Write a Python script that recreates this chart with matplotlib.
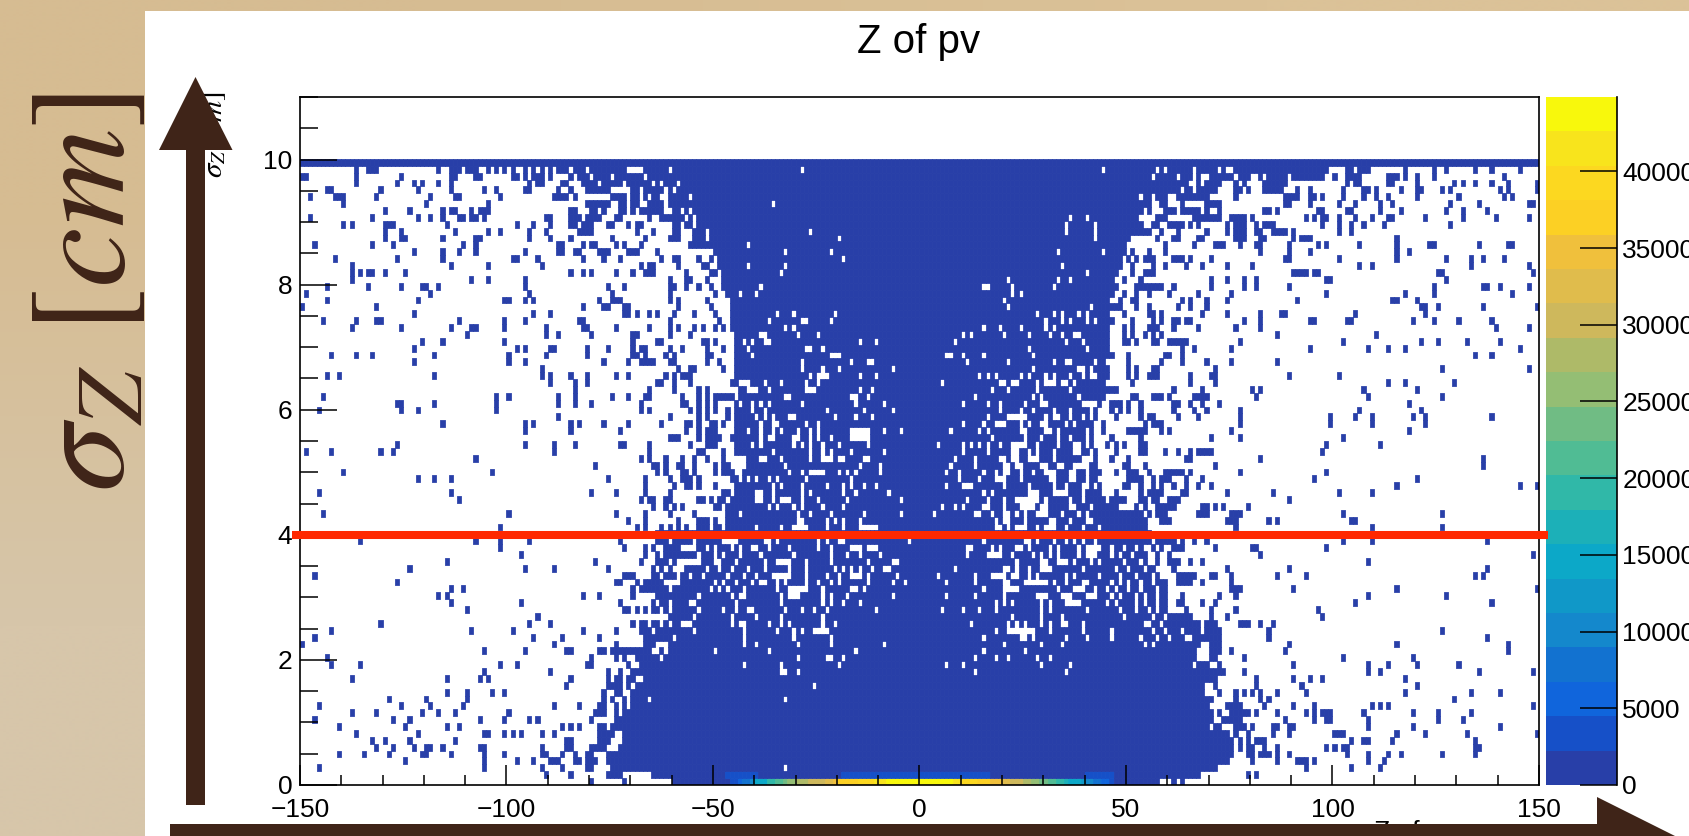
import numpy as np
import matplotlib
matplotlib.use("Agg")
import matplotlib.pyplot as plt
from matplotlib.colors import ListedColormap, BoundaryNorm
from matplotlib.patches import Polygon, Rectangle

W, H = 1690, 836
plt.rcParams['font.family'] = ['Liberation Sans', 'DejaVu Sans']
plt.rcParams['mathtext.fontset'] = 'stix'

# ---------- data: bins are 1 cm wide in z, 0.11 cm tall in sigma_z ----------
z_edges = np.arange(-150, 151)
sigma_edges = np.arange(0, 92) * 0.11
z_ticks = [-150, -100, -50, 0, 50, 100, 150]
sigma_ticks = [0, 2, 4, 6, 8, 10]
bar_ticks = [0, 5000, 10000, 15000, 20000, 25000, 30000, 35000, 40000]
bar_max = 44850
palette = ['#283FA8', '#1650C8', '#1065DC', '#1272D0', '#1488CC', '#1098C8', '#0CA8C8', '#1CB0B8',
           '#30B8A8', '#50BC94', '#70BC84', '#94BE74', '#AEBA68', '#CEB85C', '#E0BC4C', '#F0C03C',
           '#FCD024', '#FCD820', '#F8E41C', '#F8F80C']

# filled span of every sigma row, first and last z bin
core_left = [90, 85, 75, 74, 74, 77, 78, 78, 78, 76, 79, 81, 81, 81, 81, 83, 83, 83, 83, 83, 83, 83, 83, 83,
             86, 85, 87, 86, 85, 86, 86, 87, 86, 88, 88, 86, 86, 105, 104, 104, 104, 104, 105, 105, 105, 107,
             108, 108, 107, 105, 105, 105, 105, 105, 105, 105, 106, 106, 105, 105, 105, 105, 105, 105, 105,
             105, 104, 104, 104, 104, 104, 103, 102, 102, 102, 101, 101, 101, 101, 99, 99, 98, 91, 73, 72, 72,
             69, 68, 65, 62, 0]
core_right = [207, 217, 221, 224, 225, 225, 225, 224, 219, 220, 220, 219, 220, 218, 218, 221, 222, 219, 216, 216,
              217, 212, 211, 211, 211, 209, 209, 209, 208, 208, 207, 207, 207, 207, 206, 205, 205, 204, 193, 196,
              194, 194, 193, 193, 192, 193, 192, 192, 192, 191, 191, 191, 191, 192, 192, 193, 194, 197, 194, 195,
              195, 194, 196, 195, 195, 195, 195, 196, 195, 198, 195, 196, 197, 196, 197, 198, 198, 199, 199, 200,
              205, 203, 202, 203, 205, 209, 215, 215, 217, 234, 299]

# isolated filled bins left of the span, by row
left_cells = {
    0: [70, 78], 1: [59, 65, 74, 75, 76, 77], 2: [4, 44, 58, 63, 69, 70], 3: [25, 44, 52, 56, 60, 61, 62, 66, 67, 69, 70, 71],
    4: [9, 15, 21, 29, 30, 36, 44, 49, 58, 59, 63, 66, 69, 70], 5: [18, 22, 27, 30, 31, 34, 43, 44, 58, 64, 65, 70, 71, 72, 73],
    6: [17, 20, 26, 37, 64, 65, 72, 73, 74], 7: [13, 28, 44, 45, 49, 51, 53, 58, 61, 72, 73, 74, 75],
    8: [9, 25, 35, 38, 63, 65, 67, 72, 73, 75, 76, 77], 9: [3, 22, 26, 43, 49, 55, 57, 70, 76, 78, 80],
    10: [12, 18, 29, 33, 37, 50, 71, 72, 73, 76, 78], 11: [4, 24, 31, 39, 61, 67, 72, 73, 76, 78, 80],
    12: [21, 30, 40, 73, 75, 78, 80], 13: [35, 40, 46, 49, 73, 76, 77, 80], 14: [64, 74, 75, 76, 77, 79],
    15: [12, 35, 43, 45, 65, 74, 76, 77, 79, 80], 16: [44, 60, 74, 77, 80, 81, 82], 17: [7, 14, 48, 52, 69, 70, 79, 82],
    18: [6, 70, 76, 78, 81, 82], 19: [44, 54, 64, 65, 72, 73, 75, 76, 77, 78, 79, 80, 81, 82], 20: [0, 61, 76],
    21: [3, 56, 63, 72], 22: [7, 41, 51, 68, 76, 82], 23: [19, 55, 60, 80, 82], 24: [57], 25: [40, 78, 79, 81, 83],
    26: [36, 53, 77, 85], 27: [33, 35, 68, 72, 80], 28: [36, 39, 80, 82, 83, 84], 29: [23, 76, 77, 81, 83, 84, 85],
    30: [3, 78, 79, 80, 85], 31: [26, 54, 61, 74, 85], 32: [35, 71, 82], 33: [53, 83, 86], 34: [48, 78, 83, 85],
    35: [14, 42, 48, 55, 77], 37: [48, 81, 83, 87, 89, 91, 93, 96, 97, 98, 100, 101, 103, 104],
    38: [79, 83, 91, 96, 97, 98, 100, 103], 39: [5, 50, 76, 83, 89, 95, 103], 40: [85, 88, 90, 92, 100, 101, 103],
    41: [38, 82, 84, 85, 88, 89, 96, 97, 99, 101, 102], 42: [4, 36, 70, 76, 83, 89, 102, 103], 43: [83, 90, 93, 94, 96, 100],
    44: [28, 32, 36, 74, 83, 89, 92, 93, 94, 96, 104], 45: [10, 46, 86, 88, 92, 93, 95, 100, 102, 103, 104],
    46: [71, 85, 86, 88, 91, 92, 95, 100, 102, 103], 47: [42, 82, 84, 88, 92, 95, 98, 102], 48: [1, 7, 19, 22, 61, 84, 96, 97, 102, 105, 106],
    49: [23, 54, 61, 66, 77, 78, 84, 94, 98, 99, 100], 50: [89, 90, 91, 96, 98, 99, 100, 101, 104],
    51: [54, 65, 77, 93, 96, 98, 99, 100], 52: [34, 54, 56, 65, 67, 73, 79, 87, 93, 94, 96, 99, 100, 102],
    53: [62, 89, 96, 98, 103], 54: [4, 24, 28, 47, 82, 84, 94, 96, 98, 100, 103], 55: [23, 24, 32, 47, 62, 66, 70, 82, 92, 93, 96, 98, 100],
    56: [5, 47, 50, 62, 66, 75, 79, 83, 84, 92, 96, 98, 100, 101, 102, 103, 104], 57: [66, 84, 90, 96, 98],
    58: [60, 66, 69, 86, 87, 90, 94, 104], 59: [6, 9, 32, 58, 60, 65, 69, 76, 79, 88, 90, 92, 93, 94],
    60: [58, 91, 94, 95, 102], 61: [27, 50, 54, 73, 79, 82, 83, 84, 85, 89, 90, 98, 101], 62: [7, 13, 17, 32, 50, 59, 69, 80, 81, 83, 88, 90, 98, 99],
    63: [27, 52, 54, 60, 61, 69, 74, 80, 82, 83, 89, 92, 98, 102], 64: [29, 34, 49, 80, 86, 87, 97, 98, 100],
    65: [40, 59, 62, 70, 80, 81, 89, 94], 66: [12, 24, 36, 41, 42, 49, 59, 68, 69, 76, 84, 89, 91, 95, 97, 100, 102],
    67: [5, 13, 18, 19, 38, 49, 54, 67, 68, 89, 101], 68: [27, 56, 60, 78, 79, 81, 84, 86, 90, 95, 100],
    69: [0, 18, 68, 73, 74, 78, 79, 91, 99], 70: [6, 28, 49, 50, 54, 56, 72, 75, 76, 77, 89, 91, 98], 71: [1, 31, 55, 75, 89, 100],
    72: [6, 16, 24, 29, 30, 33, 54, 74, 78, 89, 90, 93, 96, 99], 73: [12, 41, 45, 54, 89, 93, 94, 98],
    74: [12, 14, 16, 17, 20, 25, 65, 68, 70, 76, 80, 83, 84, 85, 93, 99, 100], 75: [12, 36, 45, 58, 82, 84, 85, 91, 97, 98],
    76: [8, 23, 34, 51, 52, 57, 68, 73, 77, 87, 90, 91, 96, 99], 77: [27, 34, 38, 42, 54, 62, 63, 66, 67, 72, 73, 74, 79, 80, 81, 86, 100],
    78: [3, 17, 22, 39, 42, 62, 63, 68, 70, 71, 76, 78, 82, 94, 95, 96, 97, 98, 99, 100],
    79: [20, 24, 25, 34, 42, 43, 55, 60, 65, 75, 83, 89, 90, 91, 95, 96, 97], 80: [20, 24, 37, 45, 48, 55, 59, 67, 68, 69, 70, 81, 85, 90, 91, 95, 96, 97],
    81: [10, 12, 20, 21, 22, 35, 52, 56, 60, 65, 66, 68, 69, 70, 74, 75, 79, 81, 82, 90, 91, 93, 94, 96, 97],
    82: [2, 17, 28, 31, 34, 38, 39, 41, 42, 44, 59, 60, 65, 66, 67, 69, 70, 71, 72, 76, 77, 84, 87, 88, 89, 90],
    83: [20, 26, 34, 36, 37, 41, 43, 44, 45, 65, 66, 70, 71], 84: [10, 30, 45, 69, 70, 71],
    85: [2, 8, 9, 10, 18, 31, 37, 38, 48, 61, 62, 63, 64, 66], 86: [6, 7, 19, 28, 36, 44, 47, 54, 55, 62, 65],
    87: [13, 23, 27, 29, 33, 36, 55, 57, 58, 63, 64], 88: [0, 1, 13, 24, 36, 37, 42, 43, 51, 52, 54, 56, 57, 58, 60],
    89: [13, 16, 17, 18, 33, 36, 37, 38, 40, 41, 42, 45, 47, 49, 51, 54, 56, 58, 60],
}

# isolated filled bins right of the span, by row
right_cells = {
    0: [211, 213], 1: [229, 231], 2: [243, 254, 261], 3: [230, 236, 241, 242, 243, 245, 258, 262],
    4: [229, 230, 232, 233, 234, 236, 239, 253, 258, 263, 266, 276, 284], 5: [227, 229, 230, 233, 236, 248, 250, 252, 253, 284, 285],
    6: [227, 229, 231, 232, 233, 254, 257, 258, 264, 284], 7: [226, 229, 235, 239, 250, 251, 252, 265, 272, 282, 299],
    8: [221, 222, 226, 227, 228, 230, 235, 236, 239, 240, 258, 269, 290], 9: [223, 224, 225, 226, 227, 238, 245, 248, 249, 258, 275, 281],
    10: [222, 225, 226, 227, 228, 229, 231, 236, 243, 245, 247, 248, 249, 257, 269, 275, 283], 11: [224, 225, 226, 227, 233, 240, 245, 259, 261, 263, 298],
    12: [226, 232, 234, 279], 13: [222, 226, 228, 230, 232, 236, 243, 267, 283, 290], 14: [221, 231, 242, 270],
    15: [231, 240, 244, 247, 267], 16: [223, 228, 258, 261, 285, 298], 17: [222, 240, 258, 263, 270, 280],
    18: [220, 221, 228, 252, 269], 19: [220, 221, 222, 225, 238, 292], 20: [220, 221, 222, 239, 265, 292],
    21: [213, 216, 217, 218, 219, 220, 221, 222, 234, 287], 22: [212, 214, 215, 216, 217, 219, 220, 221, 222, 234, 276],
    23: [212, 213, 214, 215, 216, 217, 219, 220, 221, 227, 228, 229, 232, 235], 24: [212, 213, 214, 215, 220, 224, 247],
    25: [214, 220, 226, 246], 26: [212, 213, 218, 221, 255, 288], 27: [213, 222, 226, 258, 277], 28: [209, 225, 226, 227, 240, 265, 299],
    29: [209, 212, 213, 214, 215, 218, 225], 30: [212, 213, 214, 215, 216, 220, 221, 225, 236, 243, 284, 286],
    31: [211, 224, 239, 287], 32: [210, 211, 212, 215, 218, 258], 33: [210, 232, 298], 34: [208, 211, 212, 213, 221, 230, 231, 248],
    35: [207, 208, 209, 210, 211, 213, 216, 219, 252, 259, 287], 37: [226, 259, 276],
    38: [194, 195, 196, 197, 198, 199, 200, 201, 202, 203, 204, 208, 209, 210, 224, 225, 226, 234, 236, 254, 255],
    39: [197, 198, 199, 200, 201, 202, 203, 205, 207, 208, 209, 217, 218, 219, 225, 226, 227, 252, 276],
    40: [195, 196, 197, 202, 204, 207, 208, 209, 210, 211, 218, 219, 221, 223, 229], 41: [196, 197, 198, 199, 203, 204, 206, 207, 210, 211, 212, 239],
    42: [197, 203, 205, 206, 207, 208, 213, 214, 224, 235, 251, 259], 43: [199, 200, 203, 206, 208, 211, 214, 217, 220, 265, 295, 299],
    44: [200, 201, 202, 203, 206, 208, 209, 210, 214, 218, 245, 270], 45: [197, 200, 201, 202, 205, 209, 210, 211, 212, 213, 215, 227, 248],
    46: [199, 200, 204, 221, 286], 47: [196, 200, 214, 215, 232, 286], 48: [197, 203, 204, 209, 212, 215, 217, 218, 219, 220, 247],
    49: [195, 197, 199, 203, 204, 248, 261], 50: [196, 203, 220, 227, 252], 51: [194, 200, 201, 202, 203, 204, 208, 210, 225, 268],
    52: [194, 204, 206, 207, 208, 227, 249, 259, 272], 53: [197, 203, 205, 206, 212, 217, 227, 249, 255, 259, 269, 272, 288],
    54: [196, 198, 200, 203, 211, 216, 219, 227, 256, 271], 55: [196, 197, 198, 200, 203, 211, 212, 215, 218, 222, 268],
    56: [201, 202, 206, 207, 208, 210, 216, 217, 218, 219, 231, 258, 276], 57: [211, 218, 230, 232, 257, 270],
    58: [201, 215, 221, 263, 267, 279], 59: [200, 202, 205, 206, 207, 215, 220, 221, 239, 251], 60: [200, 202, 206, 207, 221, 276, 297],
    61: [200, 208, 213, 219, 225, 236], 62: [200, 209, 210, 213, 284, 288], 63: [213, 216, 225, 244, 258, 263, 267, 295],
    64: [199, 200, 202, 206, 207, 210, 211, 212, 213, 214, 227, 252, 271, 275, 282, 290], 65: [199, 201, 204, 206, 208, 236, 260],
    66: [199, 201, 205, 206, 207, 211, 217, 226, 232, 289, 297], 67: [201, 206, 208, 211, 212, 214, 215, 228, 232, 244, 245, 253, 254, 269, 274, 280, 288],
    68: [199, 205, 206, 208, 218, 224, 232, 237, 238, 255, 272], 69: [202, 205, 212, 215, 219, 271, 272, 275, 286, 299],
    70: [198, 201, 202, 213, 215, 219, 224, 241, 264, 265, 270], 71: [199, 202, 205, 210, 217, 225, 248, 267, 274, 293],
    72: [202, 203, 204, 205, 206, 207, 208, 211, 220, 228, 231, 239, 274, 286, 287, 290, 297], 73: [199, 203, 220, 224, 228, 231, 248, 249, 277],
    74: [201, 204, 205, 206, 240, 241, 242, 243, 245, 246, 275, 276, 298], 75: [201, 206, 209, 214, 218, 224, 230, 256, 259, 283, 297],
    76: [200, 202, 204, 205, 206, 211, 212, 213, 215, 220, 238, 239, 251, 265, 277, 283, 286, 291], 77: [201, 205, 209, 232, 239, 244, 265, 268],
    78: [209, 216, 221, 222, 223, 227, 231, 232, 239, 246, 248, 256, 265, 273, 274, 285, 292, 293],
    79: [207, 211, 212, 217, 218, 226, 227, 228, 232, 233, 240, 242, 243, 244, 265], 80: [208, 212, 219, 224, 226, 227, 228, 231, 232, 235, 236, 237, 238, 240, 251, 254],
    81: [206, 207, 210, 211, 212, 213, 215, 217, 224, 226, 227, 228, 231, 233, 234, 235, 247, 251, 254, 257, 262, 278],
    82: [207, 208, 209, 216, 217, 218, 219, 220, 221, 222, 225, 226, 227, 228, 230, 243, 245, 247, 248, 251, 255, 259, 263, 264, 272, 281, 289, 297],
    83: [205, 209, 210, 211, 213, 214, 215, 216, 217, 219, 222, 233, 234, 236, 246, 247, 253, 254, 261, 266, 277, 281, 287],
    84: [208, 209, 213, 219, 220, 221, 222, 238, 239, 244, 251, 255, 261, 264, 278, 285, 297, 298],
    85: [212, 213, 214, 215, 216, 217, 218, 219, 226, 238, 239, 240, 241, 244, 245, 247, 252, 257, 260, 263, 270, 280, 291, 293],
    86: [217, 218, 219, 220, 221, 226, 227, 229, 233, 234, 235, 236, 237, 241, 244, 252, 257, 258, 260, 266, 270, 271, 276, 278, 290, 292, 299],
    87: [217, 219, 220, 221, 222, 226, 228, 233, 234, 235, 236, 237, 238, 253, 255, 256, 263, 264, 270, 279, 281, 284, 288, 292, 299],
    88: [220, 221, 222, 223, 224, 225, 227, 228, 229, 232, 234, 235, 236, 237, 238, 240, 241, 242, 243, 244, 245, 246, 247, 250, 253, 254, 255, 256, 263, 264, 265, 267, 270, 274, 291],
    89: [235, 236, 237, 238, 239, 240, 241, 242, 243, 244, 245, 246, 247, 248, 253, 254, 256, 257, 258, 267, 274, 277, 284, 288, 295],
}

# empty bins inside the filled span, by row
holes = {
    2: [117], 12: [84, 117], 14: [124], 16: [116, 117, 120, 163, 185], 17: [107, 116, 130, 156, 160, 179, 186, 216], 18: [87, 120, 127, 128, 131, 163, 168, 171, 178, 181],
    19: [85, 86, 88, 100, 113, 134, 165, 175, 175], 20: [86, 87, 88, 107, 110, 120, 128, 141, 170, 179, 184, 204, 206],
    21: [90, 107, 119, 128, 165, 174, 175, 177, 185, 190, 196, 203, 207, 210], 22: [85, 95, 107, 115, 119, 121, 124, 125, 126, 127, 168, 171, 172, 173, 174, 175, 176, 177, 181, 189, 196, 206, 209],
    23: [84, 87, 89, 92, 93, 94, 104, 106, 107, 113, 116, 118, 126, 129, 162, 171, 173, 175, 179, 181, 184, 185, 189, 204, 205, 208], 24: [86, 87, 88, 95, 104, 110, 116, 126, 172, 179, 184, 199, 206, 209],
    25: [87, 89, 96, 102, 105, 108, 109, 117, 121, 124, 127, 139, 155, 160, 164, 168, 179, 181, 190, 198, 202, 205, 207], 26: [89, 94, 95, 105, 116, 126, 128, 131, 135, 168, 170, 172, 179, 181, 185, 186, 187, 188, 195, 197, 202, 204, 207],
    27: [96, 104, 106, 107, 116, 118, 119, 120, 126, 128, 132, 143, 156, 163, 170, 178, 179, 180, 184, 185, 186, 190, 191, 192, 196, 198, 202, 204, 207],
    28: [89, 99, 101, 103, 107, 115, 118, 119, 120, 121, 122, 126, 133, 134, 136, 165, 170, 171, 172, 173, 183, 187, 188, 189, 192, 195, 197, 200, 203, 207],
    29: [88, 89, 90, 91, 100, 102, 105, 109, 111, 112, 115, 117, 122, 125, 128, 130, 137, 143, 146, 156, 163, 170, 171, 175, 176, 177, 178, 179, 180, 182, 185, 189, 190, 196, 198, 200, 203, 206],
    30: [87, 91, 94, 97, 103, 107, 110, 114, 115, 116, 117, 118, 122, 127, 130, 133, 134, 135, 137, 144, 154, 163, 167, 168, 169, 170, 172, 173, 176, 178, 185, 187, 193, 198, 202, 206],
    31: [88, 90, 91, 92, 98, 101, 104, 108, 112, 118, 122, 129, 131, 133, 135, 138, 141, 142, 158, 170, 171, 173, 176, 179, 180, 181, 189, 197, 200, 204, 207],
    32: [89, 91, 92, 93, 94, 95, 96, 100, 101, 105, 112, 115, 116, 117, 118, 122, 128, 137, 143, 144, 173, 179, 180, 183, 184, 185, 187, 191, 193, 199, 203, 205, 206],
    33: [96, 100, 102, 106, 111, 119, 128, 132, 135, 140, 161, 166, 167, 168, 169, 172, 177, 179, 181, 183, 188, 190, 191, 192, 196, 198, 201, 205, 206],
    34: [92, 93, 94, 95, 98, 100, 104, 106, 109, 110, 113, 118, 125, 128, 133, 134, 135, 137, 138, 139, 161, 162, 167, 169, 173, 174, 176, 181, 183, 188, 190, 191, 192, 193, 196, 199, 202, 204, 205],
    35: [89, 95, 102, 103, 104, 105, 112, 113, 115, 125, 127, 130, 131, 147, 165, 175, 176, 178, 182, 185, 187, 189, 192],
    37: [110, 116, 119, 120, 121, 122, 127, 131, 135, 136, 137, 138, 139, 168, 169, 171, 173, 174, 175, 178, 180, 181, 182, 185, 189, 193],
    38: [120, 121, 127, 129, 131, 135, 168, 170, 171, 175, 181, 182, 186, 190, 191], 39: [106, 120, 123, 128, 136, 145, 153, 163, 164, 167, 170, 171, 173, 175, 178, 179, 180, 184, 188, 190],
    40: [113, 115, 119, 121, 126, 131, 155, 158, 160, 165, 166, 170, 174, 175, 176, 177, 179, 180, 186, 187, 191],
    41: [110, 111, 114, 116, 117, 118, 121, 125, 132, 145, 161, 166, 170, 173, 174, 175, 176, 177, 178, 180, 186, 189],
    42: [110, 111, 114, 121, 123, 131, 134, 142, 165, 167, 176, 177, 178, 182, 183, 184, 185, 189], 43: [114, 116, 121, 127, 131, 133, 136, 139, 156, 160, 161, 162, 170, 176, 182, 185, 189, 190, 192],
    44: [106, 108, 110, 113, 115, 122, 133, 159, 164, 168, 169, 170, 174, 181, 182, 186, 187, 190],
    45: [118, 121, 123, 124, 125, 126, 130, 132, 134, 140, 156, 159, 165, 168, 170, 171, 174, 177, 180, 181, 182, 186, 187, 190],
    46: [117, 135, 140, 157, 163, 170, 171, 173, 174, 179, 180, 183, 184, 187, 188, 189, 190],
    47: [111, 112, 116, 123, 126, 127, 128, 130, 131, 136, 137, 158, 163, 169, 170, 172, 173, 176, 177, 178, 182, 189, 190, 191],
    48: [114, 123, 126, 128, 133, 141, 160, 166, 172, 173, 176, 178, 182, 187, 188, 191], 49: [109, 111, 119, 121, 123, 126, 130, 137, 154, 160, 162, 164, 166, 169, 172, 173, 174, 175, 178, 183, 187, 188, 190],
    50: [111, 113, 114, 119, 120, 123, 125, 128, 133, 134, 135, 136, 137, 167, 175, 179, 183, 186, 190], 51: [108, 111, 114, 116, 120, 123, 125, 133, 134, 135, 136, 137, 141, 145, 157, 164, 166, 174, 175, 180, 181, 183, 190],
    52: [111, 114, 115, 122, 125, 160, 165, 168, 169, 170, 174, 176, 179, 180, 185, 187], 53: [110, 112, 114, 118, 119, 129, 134, 138, 166, 171, 172, 173, 174, 175, 180, 182, 183, 186, 189, 191],
    54: [109, 112, 127, 136, 143, 169, 174, 177, 182, 186, 191], 55: [106, 109, 111, 113, 121, 134, 141, 160, 166, 169, 175, 179, 180, 189, 190, 191, 192],
    56: [117, 118, 133, 134, 137, 163, 177, 179, 188], 57: [108, 109, 110, 113, 122, 123, 124, 135, 138, 167, 171, 178, 186],
    58: [106, 107, 108, 112, 116, 122, 125, 155, 169, 170, 172, 173, 178, 180, 181, 182, 184, 185, 187],
    59: [123, 125, 126, 127, 135, 139, 164, 166, 168, 174, 176, 180, 182, 186, 189, 191, 192], 60: [121, 126, 130, 143, 177, 188, 189, 191],
    61: [121, 133, 137, 138, 161, 171, 182, 185, 186, 192], 62: [109, 128, 129, 130, 156, 157, 160, 165, 177], 63: [108, 122, 123, 126, 176, 190],
    64: [107, 109, 112, 113, 135, 139, 158, 185, 189], 65: [111, 112, 120, 125, 160, 162, 170, 176, 181, 184, 187, 188], 66: [117, 119, 165, 169, 174, 180, 182],
    67: [113, 121, 122, 128, 180, 184, 186, 190, 192], 68: [115, 119, 129, 178, 182, 184, 188, 190], 69: [171, 191], 70: [170], 71: [106, 110, 172, 174],
    72: [111, 165, 166, 172, 182], 73: [171, 183, 186], 74: [116, 190], 75: [108, 117, 184], 76: [131], 77: [117, 128, 183, 194],
    78: [108], 79: [130, 192], 80: [123, 185, 192], 81: [185, 192], 82: [93, 95, 186, 190], 83: [74, 75, 76, 79, 81, 88, 89, 92, 94], 84: [75, 76, 79, 82, 83, 88, 114],
    85: [72, 73, 74, 79, 82, 84, 87, 88, 94, 203, 206, 210], 86: [75, 76, 77, 78, 79, 82, 88, 90, 213], 87: [72, 78, 85, 87, 91, 215], 88: [66, 70, 75, 83, 206, 212, 216],
    89: [65, 69, 79, 80, 81, 82, 89, 121, 194, 207, 209, 216, 222, 224, 225],
}

# the two lowest rows carry the large counts
bottom_row_start = 104
bottom_row_values = [3400, 3400, 5600, 7800, 7800, 10100, 14600, 14600, 14600, 19100, 19100, 21300, 21300, 23500,
                     25800, 25800, 28000, 28000, 28000, 30300, 30300, 30300, 30300, 32500, 32500, 34800, 37000,
                     37000, 37000, 37000, 37000, 39200, 39200, 39200, 39200, 41500, 41500, 41500,
                     43700, 43700, 43700, 43700, 43700, 43700, 43700, 43700, 43700, 43700, 43700, 43700, 43700, 43700, 43700, 43700,
                     41500, 41500, 39200, 39200, 39200, 39200, 37000, 37000, 37000, 34800, 34800, 34800, 32500, 32500,
                     30300, 30300, 30300, 28000, 28000, 25800, 25800, 23500, 23500, 21300, 21300, 19100, 19100, 16800,
                     14600, 14600, 14600, 12300, 10100, 10100, 7800, 7800, 5600, 5600, 3400]
second_row_bins_a = [103, 104, 105, 106, 107, 108, 109, 110]
second_row_bins_b = list(range(131, 167))
second_row_bins_c = [190, 191, 192, 193, 194, 195, 196]
second_row_value = 3400
base_count = 5

sigma_line = 3.99

# ---------- build the histogram ----------
counts = np.zeros((len(sigma_edges) - 1, len(z_edges) - 1))
for r, (a, b) in enumerate(zip(core_left, core_right)):
    counts[r, a:b + 1] = base_count
for table in (left_cells, right_cells):
    for r, bins in table.items():
        counts[r, bins] = base_count
for r, bins in holes.items():
    counts[r, bins] = 0
counts[0, bottom_row_start:bottom_row_start + len(bottom_row_values)] = bottom_row_values
counts[1, second_row_bins_a + second_row_bins_b + second_row_bins_c] = second_row_value

levels = np.linspace(0, bar_max, len(palette) + 1)
cmap = ListedColormap(palette)
norm = BoundaryNorm(levels, cmap.N)


def px_axes(fig, x0, y0, x1, y1, **kw):
    return fig.add_axes([x0 / W, 1 - y1 / H, (x1 - x0) / W, (y1 - y0) / H], **kw)


fig = plt.figure(figsize=(W / 100, H / 100), dpi=100)

# page background
bg = fig.add_axes([0, 0, 1, 1], zorder=0)
bg.axis('off')
shade = np.array([[[214, 188, 146], [219, 194, 152]], [[215, 198, 170], [215, 198, 170]]]) / 255
bg.imshow(shade, extent=(0, W, H, 0), aspect='auto', interpolation='bilinear')
bg.set_xlim(0, W)
bg.set_ylim(H, 0)
bg.add_patch(Rectangle((145, 11), W - 145, H - 11, facecolor='white', edgecolor='none'))

# histogram
ax = px_axes(fig, 300, 97, 1539, 785, zorder=1)
ax.pcolormesh(z_edges, sigma_edges, np.ma.masked_equal(counts, 0), cmap=cmap, norm=norm,
              edgecolors='face', linewidth=0.55, antialiased=True)
ax.set_xlim(-150, 150)
ax.set_ylim(0, 11)
ax.set_xticks(z_ticks)
ax.set_yticks(sigma_ticks)
ax.set_xticks(np.arange(-150, 151, 10), minor=True)
ax.set_yticks(np.arange(0, 11.01, 0.5), minor=True)
ax.set_axisbelow(False)
ax.tick_params(axis='x', which='major', direction='in', length=14.5, width=1.1, labelsize=19, pad=9.5)
ax.tick_params(axis='x', which='minor', direction='in', length=7, width=1.1)
ax.tick_params(axis='y', which='major', direction='in', length=26.5, width=1.1, labelsize=19, pad=5.5)
ax.tick_params(axis='y', which='minor', direction='in', length=13, width=1.1)
for s in ax.spines.values():
    s.set_linewidth(1.2)
ax.set_xticklabels(['\u2212150', '\u2212100', '\u221250', '0', '50', '100', '150'])

# colour bar
cax = px_axes(fig, 1546, 97, 1617.5, 785, zorder=1)
cax.pcolormesh([0, 1], levels, ((levels[:-1] + levels[1:]) / 2)[:, None], cmap=cmap, norm=norm,
               antialiased=False, linewidth=0)
cax.set_xlim(0, 1)
cax.set_ylim(0, bar_max)
cax.set_xticks([])
cax.yaxis.tick_right()
cax.set_yticks(bar_ticks)
cax.tick_params(axis='y', direction='in', length=26.5, width=1.1, labelsize=19, pad=3.5)
for name, s in cax.spines.items():
    s.set_visible(name == 'right')
    s.set_linewidth(1.2)

# overlay in picture pixels: annotations that sit over the plot
ov = fig.add_axes([0, 0, 1, 1], zorder=5, facecolor='none')
ov.set_xlim(0, W)
ov.set_ylim(H, 0)
ov.axis('off')
brown = '#3F2418'
ov.text(919, 42, 'Z of pv', ha='center', va='center', fontsize=29, color='black')
ov.text(214, 135, r'$\sigma_{Z}\ [cm]$', rotation=90, ha='center', va='center', fontsize=21, color='black', zorder=1)
ov.text(1374, 820, 'Z of pv', ha='left', va='top', fontsize=19, color='black', zorder=1)
ov.add_patch(Rectangle((186.5, 150), 18.5, 655, facecolor=brown, edgecolor='none', zorder=3))
ov.add_patch(Polygon([(195.5, 77), (232.5, 150), (159, 150)], closed=True, facecolor=brown, edgecolor='none', zorder=3))
ov.add_patch(Rectangle((170, 824), 1430, 14, facecolor=brown, edgecolor='none', zorder=3))
ov.add_patch(Polygon([(1597, 797), (1675, 836), (1597, 836)], closed=True, facecolor=brown, edgecolor='none', zorder=3))
y_px = 785 - sigma_line / 11 * (785 - 97)
ov.plot([292, 1548], [y_px, y_px], color='#FF2800', lw=5.8, solid_capstyle='butt', zorder=4)
ov.text(89, 293, r'$\sigma_{Z}\ [cm]$', rotation=90, ha='center', va='center', fontsize=98, color=brown, zorder=3)

fig.savefig('out.png', dpi=100)
